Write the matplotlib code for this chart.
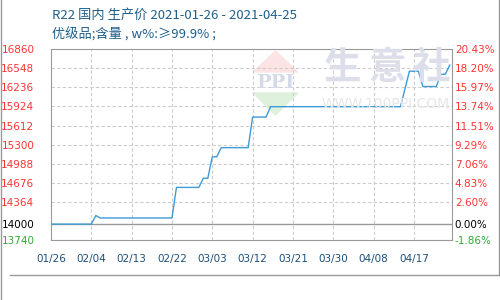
import pandas as pd; import numpy as np
from matplotlib import pyplot as plt
from matplotlib.lines import Line2D
from matplotlib.patches import Polygon

plt.rcParams['font.family'] = ['Noto Sans CJK SC', 'DejaVu Sans']

# 价格数据
dates = ['2021-01-26', '2021-02-04', '2021-02-05', '2021-02-06', '2021-02-22', '2021-02-23',
         '2021-02-28', '2021-03-01', '2021-03-02', '2021-03-03', '2021-03-04', '2021-03-05',
         '2021-03-11', '2021-03-12', '2021-03-15', '2021-03-16', '2021-04-14', '2021-04-16',
         '2021-04-18', '2021-04-19', '2021-04-22', '2021-04-23', '2021-04-24', '2021-04-25']
prices = [14000, 14000, 14140, 14100, 14100, 14600,
          14600, 14750, 14750, 15100, 15100, 15250,
          15250, 15750, 15750, 15920, 15920, 16500,
          16500, 16250, 16250, 16450, 16450, 16600]
base = 14000
y_ticks = [13740, 14000, 14364, 14676, 14988, 15300, 15612, 15924, 16236, 16548, 16860]
x_tick_dates = ['2021-01-26', '2021-02-04', '2021-02-13', '2021-02-22', '2021-03-03',
                '2021-03-12', '2021-03-21', '2021-03-30', '2021-04-08', '2021-04-17']

start = pd.Timestamp(dates[0])
days = (pd.to_datetime(dates) - start).days
xt = (pd.to_datetime(x_tick_dates) - start).days

fig = plt.figure(figsize=(5, 3), dpi=100)
ax = fig.add_axes([0.102, 0.2, 0.802, 0.636])

# 水印
fig.add_artist(Polygon([(253/500, 1-72/300), (298/500, 1-72/300), (275.5/500, 1-51/300)],
                       closed=True, color='#fde4e4', zorder=0))
fig.add_artist(Polygon([(253/500, 1-93/300), (298/500, 1-93/300), (275.5/500, 1-115/300)],
                       closed=True, color='#ddf1dd', zorder=0))
ax.set_facecolor('none')
fig.text(275.5/500, 1-83/300, 'PPI', color='#d5dae8', fontsize=14, family='DejaVu Serif',
         ha='center', va='center', fontweight='bold', zorder=0)
for cx, ch in zip([343, 387, 431], '生意社'):
    fig.text(cx/500, 1-68/300, ch, color='#dcdfea', fontsize=27, fontweight='bold',
             ha='center', va='center', zorder=0)
fig.text(386/500, 1-104/300, 'WWW.100PPI.COM', color='#e6e6e6', fontsize=10,
         family='DejaVu Sans', ha='center', va='center', zorder=0)

ax.plot(days, prices, color='#3d9bd6', lw=1.0, zorder=3)

ax.set_xlim(0, 89.5)
ax.set_ylim(y_ticks[0], y_ticks[-1])
ax.set_yticks(y_ticks)
ax.set_yticklabels([str(v) for v in y_ticks], family='DejaVu Sans', fontsize=7.5)
ax.set_xticks(xt)
ax.set_xticklabels([d[5:].replace('-', '/') for d in x_tick_dates], family='DejaVu Sans',
                   fontsize=7.5, color='#1b4f7a')
ax.tick_params(axis='both', length=0)
ax.tick_params(axis='y', pad=12)
ax.tick_params(axis='x', pad=10)

for v, lab in zip(y_ticks, ax.get_yticklabels()):
    lab.set_color('#ff3333' if v > base else ('#000000' if v == base else '#33aa33'))

for v in y_ticks[2:-1]:
    ax.axhline(v, color='#cccccc', lw=0.8, ls=(0, (3, 2)), zorder=1)
for d in xt[1:]:
    ax.axvline(d, color='#cccccc', lw=0.8, ls=(0, (3, 2)), zorder=1)
ax.axhline(base, color='#999999', lw=1.0, zorder=2)

for s in ax.spines.values():
    s.set_color('#999999')

ax2 = ax.twinx()
ax2.set_ylim(ax.get_ylim())
ax2.set_yticks(y_ticks)
ax2.set_yticklabels(['%.2f%%' % ((v - base) / base * 100) for v in y_ticks],
                    family='DejaVu Sans', fontsize=7.5)
ax2.tick_params(axis='y', length=0, pad=2)
for v, lab in zip(y_ticks, ax2.get_yticklabels()):
    lab.set_color('#ff3333' if v > base else ('#000000' if v == base else '#33aa33'))
for s in ax2.spines.values():
    s.set_visible(False)

# 标题
fig.text(52/500, 1-15/300, 'R22 国内 生产价 2021-01-26 - 2021-04-25', color='#1e5f8c',
         fontsize=9.5, va='center')
fig.text(52/500, 1-35/300, '优级品;含量 , w%:≥99.9% ;', color='#1e5f8c',
         fontsize=9.5, va='center')

# 外框线
fig.add_artist(Line2D([0.002, 0.002], [0.0, 1.0], color='#999999', lw=1))
fig.add_artist(Line2D([0.997, 0.997], [1-275/300, 1.0], color='#999999', lw=1))
fig.add_artist(Line2D([10/500, 1.0], [1-275/300, 1-275/300], color='#999999', lw=1))

fig.savefig('out.png', dpi=100)
